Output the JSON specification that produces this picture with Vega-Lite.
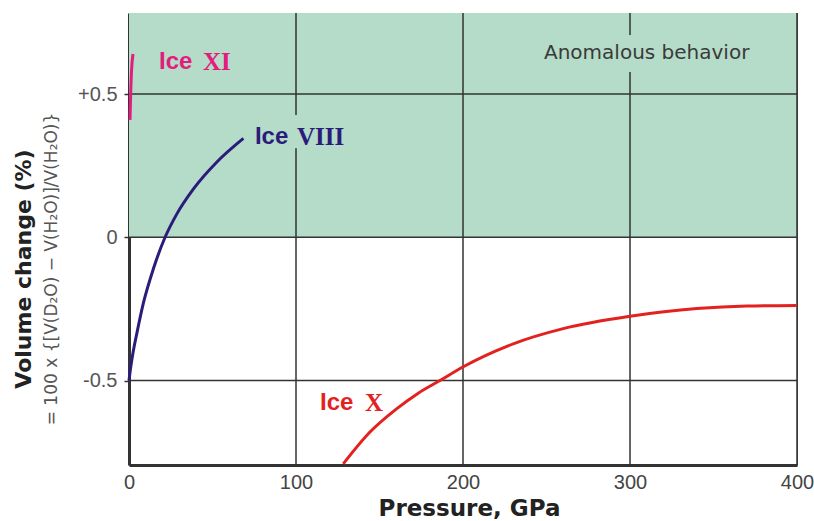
{
  "$schema": "https://vega.github.io/schema/vega-lite/v6.json",
  "width": 668,
  "height": 452,
  "autosize": {"type": "none"},
  "padding": {"left": 129, "top": 13, "right": 17, "bottom": 56},
  "background": "white",
  "config": {
    "view": {"stroke": "#555", "strokeWidth": 1},
    "font": "Liberation Sans"
  },
  "title": {
    "text": "Volume change (%)",
    "subtitle": "= 100 x {[V(D₂O) − V(H₂O)]/V(H₂O)}",
    "orient": "left",
    "anchor": "middle",
    "font": "DejaVu Sans",
    "fontSize": 22,
    "fontWeight": "bold",
    "color": "#222",
    "subtitleFont": "DejaVu Sans",
    "subtitleFontSize": 17,
    "subtitleColor": "#555",
    "subtitlePadding": 8,
    "offset": 17,
    "dx": -30
  },
  "datasets": {
    "curves": [
      {"series": "Ice XI", "p": 0.6, "v": 0.41},
      {"series": "Ice XI", "p": 1.0, "v": 0.5},
      {"series": "Ice XI", "p": 1.6, "v": 0.59},
      {"series": "Ice XI", "p": 2.4, "v": 0.64},
      {"series": "Ice VIII", "p": 0, "v": -0.5},
      {"series": "Ice VIII", "p": 1.0, "v": -0.455},
      {"series": "Ice VIII", "p": 2.5, "v": -0.4},
      {"series": "Ice VIII", "p": 4.6, "v": -0.338},
      {"series": "Ice VIII", "p": 8.6, "v": -0.23},
      {"series": "Ice VIII", "p": 14.6, "v": -0.11},
      {"series": "Ice VIII", "p": 21.6, "v": 0.0},
      {"series": "Ice VIII", "p": 28.5, "v": 0.08},
      {"series": "Ice VIII", "p": 38.5, "v": 0.168},
      {"series": "Ice VIII", "p": 52.5, "v": 0.262},
      {"series": "Ice VIII", "p": 68.5, "v": 0.345},
      {"series": "Ice X", "p": 128.3, "v": -0.791},
      {"series": "Ice X", "p": 144.3, "v": -0.68},
      {"series": "Ice X", "p": 160, "v": -0.6},
      {"series": "Ice X", "p": 173, "v": -0.545},
      {"series": "Ice X", "p": 186.2, "v": -0.5},
      {"series": "Ice X", "p": 200.2, "v": -0.452},
      {"series": "Ice X", "p": 230.1, "v": -0.372},
      {"series": "Ice X", "p": 260, "v": -0.319},
      {"series": "Ice X", "p": 300, "v": -0.276},
      {"series": "Ice X", "p": 340, "v": -0.249},
      {"series": "Ice X", "p": 370, "v": -0.24},
      {"series": "Ice X", "p": 400, "v": -0.238}
    ],
    "labels": [
      {"series": "Ice XI", "part": "sans", "text": "Ice", "p": 18.0, "v": 0.612},
      {"series": "Ice XI", "part": "serif", "text": "XI", "p": 44.3, "v": 0.612},
      {"series": "Ice VIII", "part": "sans", "text": "Ice", "p": 75.4, "v": 0.35},
      {"series": "Ice VIII", "part": "serif", "text": "VIII", "p": 100.6, "v": 0.35},
      {"series": "Ice X", "part": "sans", "text": "Ice", "p": 114.4, "v": -0.577},
      {"series": "Ice X", "part": "serif", "text": "X", "p": 141.3, "v": -0.577}
    ]
  },
  "layer": [
    {
      "data": {"values": [{"p": 0, "p2": 400, "v": 0, "v2": 0.783}]},
      "mark": {"type": "rect", "color": "#b4dcc8"},
      "encoding": {
        "x": {"field": "p", "type": "quantitative", "scale": {"domain": [0, 400], "nice": false, "zero": false},
          "axis": {"values": [0, 100, 200, 300, 400], "grid": false, "title": "Pressure, GPa", "titleFont": "DejaVu Sans", "titleFontSize": 23, "titleFontWeight": "bold", "titleColor": "#222", "titlePadding": 5, "titleX": 340, "labelFontSize": 20, "labelColor": "#444", "labelPadding": 7, "labelFlush": false, "tickSize": 0, "domainColor": "#333", "domainWidth": 3}},
        "x2": {"field": "p2"},
        "y": {"field": "v", "type": "quantitative", "scale": {"domain": [-0.795, 0.783], "nice": false, "zero": false},
          "axis": {"values": [-0.5, 0, 0.5], "grid": false, "title": null, "labelExpr": "datum.value > 0 ? '+' + toString(datum.value) : (datum.value < 0 ? '-' + toString(-datum.value) : '0')", "labelFontSize": 20, "labelColor": "#555", "labelPadding": 7, "tickSize": 5, "tickColor": "#333", "tickWidth": 1.5, "domainColor": "#333", "domainWidth": 3}},
        "y2": {"field": "v2"}
      }
    },
    {
      "data": {"values": [{"p": 100}, {"p": 200}, {"p": 300}, {"p": 400}]},
      "mark": {"type": "rule", "color": "#333", "strokeWidth": 1.5},
      "encoding": {"x": {"field": "p", "type": "quantitative"}}
    },
    {
      "data": {"values": [{"v": -0.5}, {"v": 0}, {"v": 0.5}]},
      "mark": {"type": "rule", "color": "#333", "strokeWidth": 1.5},
      "encoding": {"y": {"field": "v", "type": "quantitative"}}
    },
    {
      "data": {"values": [
        {"p": 98.5, "p2": 101.5, "v": 0.311, "v2": 0.427},
        {"p": 298.5, "p2": 301.5, "v": 0.577, "v2": 0.706}
      ]},
      "mark": {"type": "rect", "color": "#b4dcc8"},
      "encoding": {
        "x": {"field": "p", "type": "quantitative"},
        "x2": {"field": "p2"},
        "y": {"field": "v", "type": "quantitative"},
        "y2": {"field": "v2"}
      }
    },
    {
      "data": {"name": "curves"},
      "mark": {"type": "line", "strokeWidth": 3, "interpolate": "monotone"},
      "encoding": {
        "x": {"field": "p", "type": "quantitative"},
        "y": {"field": "v", "type": "quantitative"},
        "detail": {"field": "series"},
        "color": {"field": "series", "type": "nominal", "scale": {"domain": ["Ice XI", "Ice VIII", "Ice X"], "range": ["#e21d7d", "#2b1c7c", "#e3221f"]}, "legend": null}
      }
    },
    {
      "data": {"name": "labels"},
      "transform": [{"filter": "datum.part === 'sans'"}],
      "mark": {"type": "text", "font": "Liberation Sans", "fontWeight": "bold", "fontSize": 24, "align": "left", "baseline": "middle"},
      "encoding": {
        "x": {"field": "p", "type": "quantitative"},
        "y": {"field": "v", "type": "quantitative"},
        "text": {"field": "text"},
        "color": {"field": "series", "type": "nominal", "legend": null}
      }
    },
    {
      "data": {"name": "labels"},
      "transform": [{"filter": "datum.part === 'serif'"}],
      "mark": {"type": "text", "font": "Liberation Serif", "fontWeight": "bold", "fontSize": 25, "align": "left", "baseline": "middle"},
      "encoding": {
        "x": {"field": "p", "type": "quantitative"},
        "y": {"field": "v", "type": "quantitative"},
        "text": {"field": "text"},
        "color": {"field": "series", "type": "nominal", "legend": null}
      }
    },
    {
      "data": {"values": [{"p": 310, "v": 0.643, "text": "Anomalous behavior"}]},
      "mark": {"type": "text", "font": "DejaVu Sans", "fontSize": 20, "align": "center", "baseline": "middle", "color": "#3a3a3a"},
      "encoding": {
        "x": {"field": "p", "type": "quantitative"},
        "y": {"field": "v", "type": "quantitative"},
        "text": {"field": "text"}
      }
    }
  ]
}
